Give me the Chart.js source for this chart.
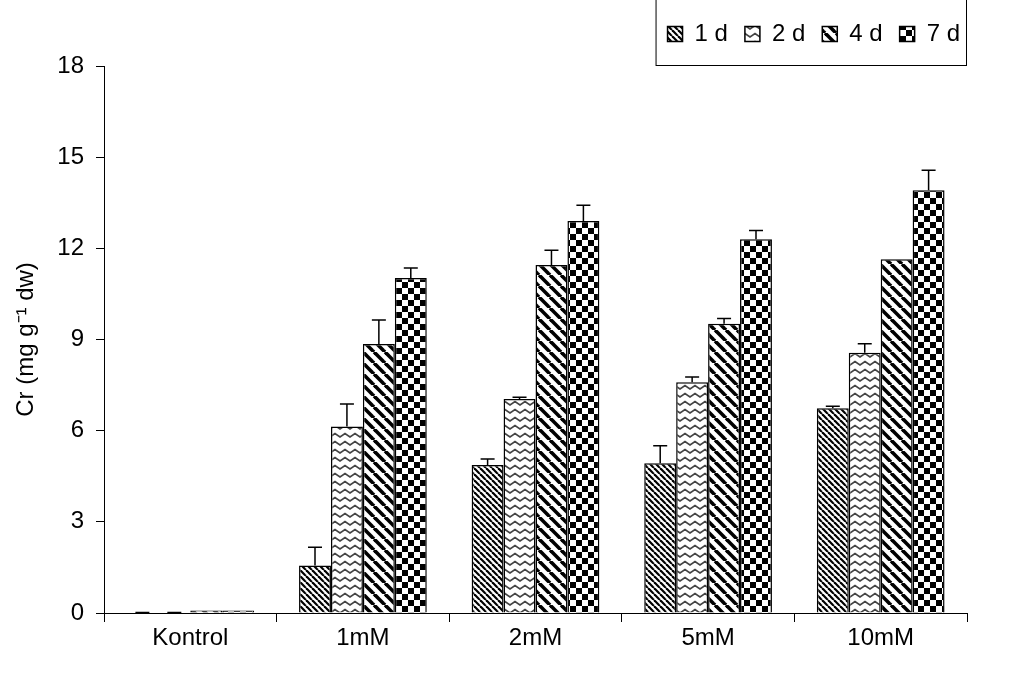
<!DOCTYPE html>
<html>
<head>
<meta charset="utf-8">
<script src="https://cdn.jsdelivr.net/npm/chart.js@4"></script>
<style>
    body { margin: 0; background: #fff; }
    #wrap { width: 1026px; height: 694px; }
</style>
</head>
<body>
<div id="wrap"><canvas id="Graph" width="1026" height="694"></canvas></div>
<script>
const labels = ['Kontrol', '1mM', '2mM', '5mM', '10mM'];
const seriesNames = ['1 d', '2 d', '4 d', '7 d'];

const day1 = [0, 1.56, 4.87, 4.93, 6.74];
const day2 = [0, 6.14, 7.04, 7.59, 8.56];
const day4 = [0.08, 8.85, 11.45, 9.52, 11.64];
const day7 = [0.08, 11.02, 12.90, 12.30, 13.91];

const err1 = [0.02, 0.60, 0.20, 0.57, 0.06];
const err2 = [0.02, 0.74, 0.06, 0.18, 0.30];
const err4 = [0, 0.79, 0.49, 0.17, 0];
const err7 = [0, 0.33, 0.52, 0.29, 0.66];

const yTicks = [0, 3, 6, 9, 12, 15, 18];

// hatch patterns like the old excel fills
function makePattern(w, h, draw) {
    const c = document.createElement('canvas');
    c.width = w;
    c.height = h;
    const g = c.getContext('2d');
    g.fillStyle = '#fff';
    g.fillRect(0, 0, w, h);
    draw(g);
    return g.createPattern(c, 'repeat');
}

function stripes(size, lw) {
    return makePattern(size, size, function (g) {
        g.strokeStyle = '#000';
        g.lineWidth = lw;
        for (let k = -1; k <= 1; k++) {
            g.beginPath();
            g.moveTo(k * size, 0);
            g.lineTo(k * size + size, size);
            g.stroke();
        }
    });
}

const pat1 = stripes(6, 2.2);
const pat4 = stripes(11, 3.6);
const pat2 = makePattern(10, 8, function (g) {
    g.strokeStyle = '#444';
    g.lineWidth = 1.6;
    g.beginPath();
    g.moveTo(-2.5, 1.5);
    g.lineTo(0, 5);
    g.lineTo(5, 1.5);
    g.lineTo(10, 5);
    g.lineTo(12.5, 1.5);
    g.stroke();
});
const pat7 = makePattern(12, 12, function (g) {
    g.fillStyle = '#000';
    g.fillRect(0, 0, 6, 6);
    g.fillRect(6, 6, 6, 6);
});

const errors = [err1, err2, err4, err7];

const errorBars = {
    id: 'errorBars',
    afterDatasetsDraw(chart) {
        const ctx = chart.ctx;
        const y = chart.scales.y;
        ctx.save();
        ctx.strokeStyle = '#000';
        ctx.lineWidth = 1.5;
        chart.data.datasets.forEach((ds, i) => {
            const meta = chart.getDatasetMeta(i);
            meta.data.forEach((bar, j) => {
                const e = errors[i][j];
                if (!e) return;
                const top = y.getPixelForValue(ds.data[j] + e);
                ctx.beginPath();
                ctx.moveTo(bar.x, bar.y);
                ctx.lineTo(bar.x, top);
                ctx.moveTo(bar.x - 7, top);
                ctx.lineTo(bar.x + 7, top);
                ctx.stroke();
            });
        });
        ctx.restore();
    }
};

const legendFrame = {
    id: 'legendFrame',
    afterDraw(chart) {
        const boxes = chart.legend.legendHitBoxes;
        if (!boxes || !boxes.length) return;
        const first = boxes[0];
        const last = boxes[boxes.length - 1];
        const ctx = chart.ctx;
        ctx.save();
        ctx.strokeStyle = '#000';
        ctx.lineWidth = 1;
        ctx.strokeRect(first.left - 11.5, -2, last.left + last.width - first.left + 18, chart.chartArea.top + 1.5);
        ctx.restore();
    }
};

Chart.defaults.font.family = "'Liberation Sans', Arial, sans-serif";
Chart.defaults.font.size = 24;
Chart.defaults.color = '#000';

const fills = [pat1, pat2, pat4, pat7];
const values = [day1, day2, day4, day7];

new Chart(document.getElementById('Graph').getContext('2d'), {
    type: 'bar',
    data: {
        labels: labels,
        datasets: seriesNames.map((name, i) => ({
            label: name,
            data: values[i],
            backgroundColor: fills[i],
            borderColor: '#000',
            borderWidth: 1.5,
            barPercentage: 1,
            categoryPercentage: 0.74
        }))
    },
    options: {
        responsive: false,
        animation: false,
        devicePixelRatio: 1,
        layout: { padding: { top: 5, right: 49, left: 0, bottom: 0 } },
        plugins: {
            legend: {
                position: 'top',
                align: 'end',
                labels: { boxWidth: 15, boxHeight: 15, padding: 17, font: { size: 24 } }
            },
            tooltip: { enabled: false }
        },
        scales: {
            x: {
                grid: { offset: true, drawOnChartArea: false, drawTicks: true, tickLength: 9, color: '#000' },
                border: { color: '#000', width: 1 },
                ticks: { padding: 2, font: { size: 24 } },
                afterFit(s) { s.height = 81; }
            },
            x2: {
                type: 'linear',
                position: 'top',
                display: true,
                grid: { display: false },
                border: { display: false },
                ticks: { display: false },
                afterFit(s) { s.height = 10; }
            },
            y: {
                min: 0,
                max: 18,
                afterBuildTicks(s) { s.ticks = yTicks.map(v => ({ value: v })); },
                grid: { drawOnChartArea: false, tickLength: 8, color: '#000' },
                border: { color: '#000', width: 1 },
                ticks: { padding: 12, font: { size: 24 } },
                title: {
                    display: true,
                    text: 'Cr (mg g\u207B\u00B9 dw)',
                    font: { size: 24 },
                    padding: { top: 12, bottom: 0 }
                },
                afterFit(s) { s.width = 104; }
            },
            y2: {
                type: 'linear',
                position: 'right',
                display: true,
                grid: { display: false },
                border: { display: false },
                ticks: { display: false },
                afterFit(s) { s.width = 10; }
            }
        }
    },
    plugins: [errorBars, legendFrame]
});
</script>
</body>
</html>
